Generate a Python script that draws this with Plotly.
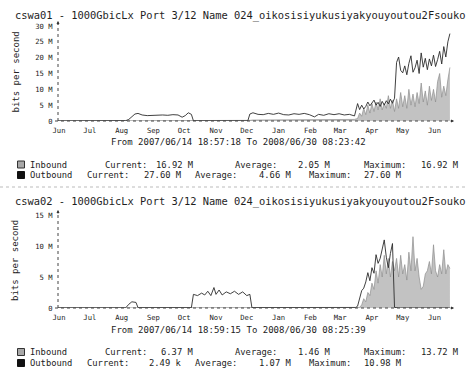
import plotly.graph_objects as go

W, H = 468, 375
FONT = "DejaVu Sans Mono"

# ---------------- data ----------------
month_labels = ["Jun", "Jul", "Aug", "Sep", "Oct", "Nov", "Dec",
                "Jan", "Feb", "Mar", "Apr", "May", "Jun"]
month_ticks = ["2007-06-15", "2007-07-15", "2007-08-15", "2007-09-15",
               "2007-10-15", "2007-11-15", "2007-12-15", "2008-01-15",
               "2008-02-15", "2008-03-15", "2008-04-15", "2008-05-15",
               "2008-06-15"]

dense_dates = ["2008-04-01", "2008-04-03", "2008-04-05", "2008-04-07", "2008-04-09",
               "2008-04-11", "2008-04-13", "2008-04-15", "2008-04-17", "2008-04-19",
               "2008-04-21", "2008-04-23", "2008-04-25", "2008-04-27", "2008-04-29",
               "2008-05-01", "2008-05-03", "2008-05-05", "2008-05-07", "2008-05-09",
               "2008-05-11", "2008-05-13", "2008-05-15", "2008-05-17", "2008-05-19",
               "2008-05-21", "2008-05-23", "2008-05-25", "2008-05-27", "2008-05-29",
               "2008-05-31", "2008-06-02", "2008-06-04", "2008-06-06", "2008-06-08",
               "2008-06-10", "2008-06-12", "2008-06-14", "2008-06-16", "2008-06-18",
               "2008-06-20", "2008-06-22", "2008-06-24", "2008-06-26", "2008-06-28",
               "2008-06-30"]

# chart 1 (cswa01), values in Mbit/s
c1_dates = ["2007-06-14", "2007-07-20", "2007-08-19", "2007-08-22", "2007-08-25",
            "2007-08-28", "2007-08-31", "2007-09-04", "2007-09-09", "2007-09-14",
            "2007-09-19", "2007-09-24", "2007-09-29", "2007-10-04", "2007-10-09",
            "2007-10-13", "2007-10-16", "2007-10-19", "2007-10-22", "2007-10-24",
            "2007-11-20", "2007-12-16", "2007-12-18", "2007-12-21", "2007-12-26",
            "2007-12-31", "2008-01-05", "2008-01-10", "2008-01-15", "2008-01-20",
            "2008-01-25", "2008-01-30", "2008-02-04", "2008-02-09", "2008-02-14",
            "2008-02-19", "2008-02-23", "2008-02-28", "2008-03-04", "2008-03-09",
            "2008-03-14", "2008-03-19", "2008-03-24", "2008-03-29"] + dense_dates
c1_in = [0.0, 0.0, 0.0, 0.05, 0.1, 0.15, 0.2, 0.2, 0.2, 0.2,
         0.2, 0.2, 0.2, 0.2, 0.2, 0.2, 0.2, 0.2, 0.2, 0.0,
         0.0, 0.0, 0.2, 0.3, 0.3, 0.3, 0.3, 0.3, 0.3, 0.3,
         0.3, 0.3, 0.3, 0.3, 0.3, 0.3, 0.3, 0.3, 0.3, 0.3,
         0.3, 0.3, 0.4, 0.5,
         0.8, 2.5, 1.5, 4.0, 2.0, 5.0, 2.5, 5.5, 3.0, 6.0,
         3.5, 7.0, 3.5, 5.5, 4.0, 8.0, 4.0, 6.5, 3.0, 7.0,
         4.0, 9.0, 4.5, 8.0, 4.0, 10.0, 5.0, 8.5, 4.5, 9.0,
         5.5, 12.0, 6.0, 9.5, 5.0, 11.0, 6.5, 10.0, 6.0, 12.5,
         15.0, 7.5, 11.0, 8.0, 13.0, 16.92]
c1_out = [0.05, 0.05, 0.1, 0.5, 1.3, 2.2, 2.4, 1.9, 1.7, 1.8,
          1.7, 1.9, 1.8, 2.0, 1.9, 1.2, 1.7, 2.6, 2.1, 0.05,
          0.05, 0.05, 2.2, 2.6, 2.1, 2.0, 2.4, 2.1, 2.5, 2.0,
          1.9, 2.3, 2.1, 2.4, 2.0, 1.3, 2.1, 1.8, 2.3, 2.0,
          2.3, 1.9, 2.1, 1.6,
          5.5, 3.6, 5.0, 3.8, 4.6, 6.0, 4.8, 5.6, 6.6, 5.0,
          5.9, 4.6, 6.2, 5.0, 6.4, 5.4, 6.9, 5.6, 7.2, 18.5,
          20.2, 16.0, 15.2, 17.4, 14.6, 18.2, 20.6, 15.4, 16.8, 19.2,
          15.0, 21.5, 17.0, 19.8, 16.2, 19.6, 17.4, 20.8, 17.2, 19.4,
          22.0, 18.0, 23.5, 20.2, 25.0, 27.6]

# chart 2 (cswa02)
c2_dates = ["2007-06-14", "2007-08-19", "2007-08-22", "2007-08-25", "2007-08-29",
            "2007-08-31", "2007-10-22", "2007-10-24", "2007-10-28", "2007-11-01",
            "2007-11-04", "2007-11-07", "2007-11-10", "2007-11-13", "2007-11-15",
            "2007-11-18", "2007-11-21", "2007-11-25", "2007-11-29", "2007-12-03",
            "2007-12-07", "2007-12-11", "2007-12-15", "2007-12-18", "2007-12-20",
            "2008-03-30"] + dense_dates
c2_in = [0.0, 0.0, 0.0, 0.0, 0.0, 0.0, 0.0, 0.1, 0.1, 0.1,
         0.1, 0.1, 0.1, 0.1, 0.1, 0.1, 0.1, 0.1, 0.1, 0.1,
         0.1, 0.1, 0.1, 0.1, 0.0, 0.0,
         0.0, 0.1, 0.5, 1.5, 1.0, 2.5, 2.0, 4.0, 3.0, 6.0,
         4.0, 7.0, 5.0, 8.5, 5.5, 8.0, 5.0, 7.5, 6.0, 8.0,
         5.0, 8.5, 5.5, 7.0, 4.5, 9.0, 6.0, 11.5, 6.0, 8.0,
         5.0, 3.0, 3.5, 5.5, 6.0, 7.5, 5.5, 10.2, 6.0, 5.0,
         7.0, 5.5, 9.4, 5.5, 7.0, 6.37]
c2_out = [0.03, 0.03, 0.6, 1.0, 0.9, 0.05, 0.05, 2.2, 2.0, 2.4,
          2.1, 2.7, 2.0, 3.3, 2.2, 2.9, 2.1, 2.6, 2.3, 2.7,
          2.2, 2.6, 2.0, 2.2, 0.05, 0.05,
          0.3, 1.5, 2.8, 3.2, 4.2, 5.7, 4.4, 6.5, 5.6, 8.6,
          7.2, 8.0, 9.6, 10.98, 8.2, 6.5, 8.8, 10.4, 0.1, 0.0,
          0.0, 0.0, 0.0, 0.0, 0.0, 0.0, 0.0, 0.0, 0.0, 0.0,
          0.0, 0.0, 0.0, 0.0, 0.0, 0.0, 0.0, 0.0, 0.0, 0.0,
          0.0, 0.0, 0.0, 0.0, 0.0, 0.0]

c1_yticks = [0, 5, 10, 15, 20, 25, 30]
c1_ylabels = ["0", "5 M", "10 M", "15 M", "20 M", "25 M", "30 M"]
c2_yticks = [0, 5, 10, 15]
c2_ylabels = ["0", "5 M", "10 M", "15 M"]

titles = ["cswa01 - 1000GbicLx Port 3/12 Name 024_oikosisiyukusiyakyouyoutou2Fsouko",
          "cswa02 - 1000GbicLx Port 3/12 Name 024_oikosisiyukusiyakyouyoutou2Fsouko"]
periods = ["From 2007/06/14 18:57:18 To 2008/06/30 08:23:42",
           "From 2007/06/14 18:59:15 To 2008/06/30 08:25:39"]
stats = [
    {"in": ["16.92 M", "2.05 M", "16.92 M"], "out": ["27.60 M", "4.66 M", "27.60 M"]},
    {"in": ["6.37 M", "1.46 M", "13.72 M"], "out": ["2.49 k", "1.07 M", "10.98 M"]},
]

# ---------------- layout helpers ----------------
def px(x):
    return x / W

def py(y):
    return 1 - y / H

X_RANGE = ["2007-06-14", "2008-07-03"]
X_DOM = [px(58), px(453)]

fig = go.Figure()

charts = [
    dict(dates=c1_dates, vin=c1_in, vout=c1_out, yt=c1_yticks, yl=c1_ylabels,
         ymax=30, top=26, bottom=121, title_y=15, period_y=142,
         row1=164.5, row2=175, ylab_y=72.5),
    dict(dates=c2_dates, vin=c2_in, vout=c2_out, yt=c2_yticks, yl=c2_ylabels,
         ymax=15, top=215, bottom=308, title_y=201, period_y=330,
         row1=352, row2=363, ylab_y=261),
]

annotations = []
shapes = []

for i, ch in enumerate(charts):
    n = "" if i == 0 else str(i + 1)
    xa = "x" + n
    ya = "y" + n
    fig.add_trace(go.Scatter(
        x=ch["dates"], y=ch["vin"], mode="lines", fill="tozeroy",
        fillcolor="#c2c2c2", line=dict(color="#8e8e8e", width=0.7),
        xaxis=xa, yaxis=ya, showlegend=False, hoverinfo="skip"))
    fig.add_trace(go.Scatter(
        x=ch["dates"], y=ch["vout"], mode="lines",
        line=dict(color="#2b2b2b", width=0.9),
        xaxis=xa, yaxis=ya, showlegend=False, hoverinfo="skip"))

    xkey = "xaxis" + n
    ykey = "yaxis" + n
    fig.layout[xkey] = dict(
        domain=X_DOM, range=X_RANGE, type="date", anchor=ya,
        showgrid=False, zeroline=False, showline=False, automargin=False,
        tickmode="array", tickvals=month_ticks, ticktext=month_labels,
        tickfont=dict(family=FONT, size=7.2, color="#222"),
        ticks="outside", ticklen=2, tickcolor="rgba(0,0,0,0)", fixedrange=True)
    fig.layout[ykey] = dict(
        domain=[py(ch["bottom"]), py(ch["top"])], range=[0, ch["ymax"]],
        anchor=xa, showgrid=False, zeroline=False, showline=False, automargin=False,
        tickmode="array", tickvals=ch["yt"], ticktext=ch["yl"],
        tickfont=dict(family=FONT, size=7.2, color="#222"),
        ticks="outside", ticklen=3, tickcolor="rgba(0,0,0,0)", fixedrange=True)

    # axis lines (dotted, MRTG style)
    shapes.append(dict(type="line", xref="paper", yref="paper",
                       x0=px(58), x1=px(58), y0=py(ch["bottom"]), y1=py(ch["top"] - 3),
                       line=dict(color="#444", width=1, dash="dot")))
    shapes.append(dict(type="line", xref="paper", yref="paper",
                       x0=px(55), x1=px(451), y0=py(ch["bottom"]), y1=py(ch["bottom"]),
                       line=dict(color="#444", width=1, dash="dot")))
    # arrowheads
    annotations.append(dict(xref="paper", yref="paper", x=px(454), y=py(ch["bottom"]),
                            ax=-5, ay=0, text="", showarrow=True, arrowhead=2,
                            arrowsize=0.6, arrowwidth=1, arrowcolor="#333"))
    annotations.append(dict(xref="paper", yref="paper", x=px(58), y=py(ch["top"] - 5),
                            ax=0, ay=5, text="", showarrow=True, arrowhead=2,
                            arrowsize=0.6, arrowwidth=1, arrowcolor="#333"))

    # title
    annotations.append(dict(xref="paper", yref="paper", x=px(13), y=py(ch["title_y"]),
                            xanchor="left", yanchor="middle", showarrow=False,
                            text=titles[i], font=dict(family=FONT, size=10.4, color="#1e1e1e")))
    # y axis title
    annotations.append(dict(xref="paper", yref="paper", x=px(15), y=py(ch["ylab_y"]),
                            xanchor="center", yanchor="middle", showarrow=False,
                            textangle=-90, text="bits per second",
                            font=dict(family=FONT, size=9, color="#222")))
    # period
    annotations.append(dict(xref="paper", yref="paper", x=px(238), y=py(ch["period_y"]),
                            xanchor="center", yanchor="middle", showarrow=False,
                            text=periods[i], font=dict(family=FONT, size=9, color="#222")))

    # legend rows
    lf = dict(family=FONT, size=8.8, color="#222")
    r1, r2 = ch["row1"], ch["row2"]
    shapes.append(dict(type="rect", xref="paper", yref="paper",
                       x0=px(17.5), x1=px(24.5), y0=py(r1 + 3.5), y1=py(r1 - 3.5),
                       fillcolor="#a8a8a8", line=dict(color="#333", width=1)))
    shapes.append(dict(type="rect", xref="paper", yref="paper",
                       x0=px(17.5), x1=px(24.5), y0=py(r2 + 3.5), y1=py(r2 - 3.5),
                       fillcolor="#111", line=dict(color="#111", width=1)))
    row1_items = [("Inbound", 28, "left"), ("Current:", 103, "left"),
                  (stats[i]["in"][0], 195, "right"), ("Average:", 233, "left"),
                  (stats[i]["in"][1], 332, "right"), ("Maximum:", 362, "left"),
                  (stats[i]["in"][2], 460, "right")]
    row2_items = [("Outbound", 28, "left"), ("Current:", 85, "left"),
                  (stats[i]["out"][0], 183, "right"), ("Average:", 193, "left"),
                  (stats[i]["out"][1], 293, "right"), ("Maximum:", 307, "left"),
                  (stats[i]["out"][2], 403, "right")]
    for txt, xx, anc in row1_items:
        annotations.append(dict(xref="paper", yref="paper", x=px(xx), y=py(r1),
                                xanchor=anc, yanchor="middle", showarrow=False,
                                text=txt, font=lf))
    for txt, xx, anc in row2_items:
        annotations.append(dict(xref="paper", yref="paper", x=px(xx), y=py(r2),
                                xanchor=anc, yanchor="middle", showarrow=False,
                                text=txt, font=lf))

# separator between the two graphs
shapes.append(dict(type="line", xref="paper", yref="paper",
                   x0=0, x1=1, y0=py(187), y1=py(187),
                   line=dict(color="#bbbbbb", width=1, dash="dot")))

fig.update_layout(
    width=W, height=H, autosize=False,
    margin=dict(l=0, r=0, t=0, b=0, pad=0, autoexpand=False),
    paper_bgcolor="white", plot_bgcolor="white",
    annotations=annotations, shapes=shapes,
    font=dict(family=FONT, color="#222"),
)

fig.write_html(
    "out.html",
    config={"displayModeBar": False},
    post_script="document.documentElement.style.margin='0';document.body.style.margin='0';document.body.style.padding='0';document.body.style.overflow='hidden';",
)
